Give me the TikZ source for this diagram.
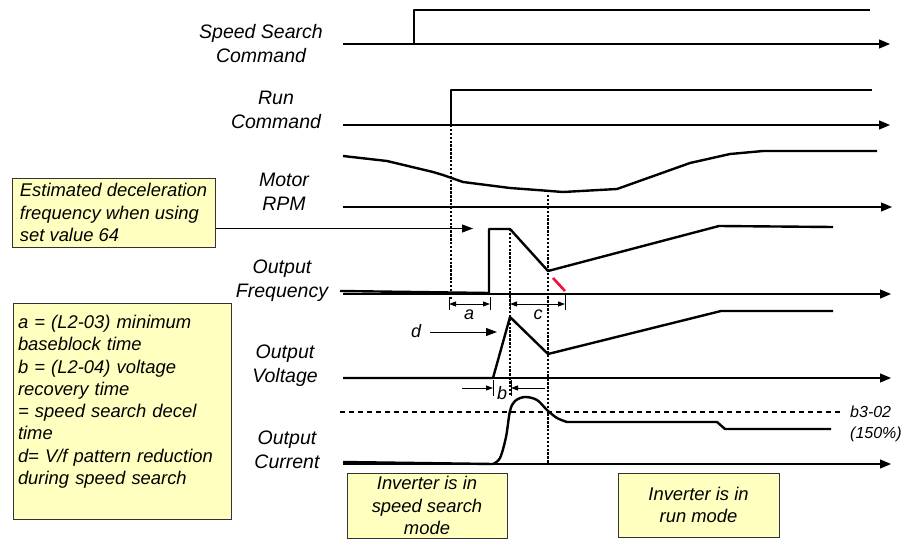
\documentclass[tikz,border=0pt]{standalone}
\usepackage{fontspec}
\setmainfont{Liberation Sans}
\usetikzlibrary{arrows.meta}
\definecolor{notefill}{HTML}{FFFFC0}
\definecolor{alertred}{HTML}{F0103C}
\begin{document}
\begin{tikzpicture}[x=1pt,y=-1pt,
  sig/.style={line width=2.4pt,line join=round},
  axis/.style={line width=1.2pt,-{Triangle[length=11pt,width=9pt]}},
  vdot/.style={line width=1.5pt,dash pattern=on 2.4pt off 1.5pt},
  dim/.style={line width=1pt},
  dimtip/.style={line width=1pt,-{Triangle[length=7pt,width=5pt]}},
  bigtip/.style={line width=1pt,-{Triangle[length=11pt,width=8pt]}},
  lbl/.style={font=\fontsize{19.5}{24}\selectfont\itshape,align=center,anchor=base,inner sep=0pt},
  small/.style={font=\fontsize{18}{22}\selectfont\itshape,anchor=base,inner sep=0pt},
  note/.style={draw=black!80,line width=1pt,fill=notefill,font=\fontsize{18.4}{22.3}\selectfont\itshape,inner sep=0pt}
]
\useasboundingbox (0,0) rectangle (909,540);

% ---- signal labels (anchor = baseline of last line)
\node[lbl] (lss)  at (261,63)  {Speed Search\\Command};
\node[lbl] (lrun) at (276,129) {Run\\Command};
\node[lbl] (lrpm) at (284,210) {Motor\\RPM};
\node[lbl] (lfrq) at (282,297) {Output\\Frequency};
\node[lbl] (lvol) at (285,382) {Output\\Voltage};
\node[lbl] (lcur) at (287,468) {Output\\Current};

% ---- axes
\coordinate (a1s) at (343,44);  \coordinate (a1e) at (890,44);
\coordinate (a2s) at (343,125); \coordinate (a2e) at (890,125);
\coordinate (a3s) at (343,207); \coordinate (a3e) at (892,207);
\coordinate (a4s) at (343,294); \coordinate (a4e) at (891,294);
\coordinate (a5s) at (343,378); \coordinate (a5e) at (891,378);
\coordinate (a6s) at (343,464); \coordinate (a6e) at (891,464);
\foreach \i in {1,...,6} {\draw[axis] (a\i s) -- (a\i e);}

% ---- dotted guide lines
\draw[vdot] (451,125) -- (451,300);
\draw[vdot] (510,229) -- (510,395);
\draw[vdot] (548,195) -- (548,464);

% ---- signals
\draw[sig] (343,44) -- (414,44) -- (414,10) -- (870,10);
\draw[sig] (343,125) -- (451,125) -- (451,90) -- (872,90);
\draw[sig] (343,156) -- (387,161) -- (433,172) -- (443,175) -- (463,182) -- (510,188)
  -- (537,190) -- (563,192) -- (617,189) -- (690,163) -- (730,154) -- (763,151) -- (877,151);
\draw[sig] (340,291) -- (489,293) -- (489,229) -- (510,229) -- (548,271) -- (719,226) -- (833,227);
\draw[alertred,line width=2.6pt] (553,278) -- (565,291);
\draw[sig] (343,378) -- (493,378) -- (510,317) -- (548,354) -- (721,311) -- (833,311);
\draw[line width=1.2pt,dash pattern=on 5pt off 4pt] (340,412) -- (841,412);
\draw[sig] (343,462) -- (493,464) plot[smooth,tension=0.55] coordinates {(493,464) (500,458) (506,437) (510,411) (515,401) (525,397) (537,400) (547,410) (557,418) (567,422)}
  -- (717,422) -- (725,429) -- (831,429);

% ---- dimension a
\draw[dim] (449,297) -- (449,310);
\draw[dim] (490,297) -- (490,310);
\coordinate (am) at (469,304);
\draw[dimtip] (am) -- (449,304);
\draw[dimtip] (am) -- (490,304);
\node[small] (la) at (469,319) {a};

% ---- dimension c
\draw[dim] (510,297) -- (510,310);
\draw[dim] (565,295) -- (565,310);
\coordinate (cm) at (537,304);
\draw[dimtip] (cm) -- (510,304);
\draw[dimtip] (cm) -- (565,304);
\node[small] (lc) at (538,319) {c};

% ---- dimension b
\draw[dim] (493,380) -- (493,396);
\draw[dim] (511,380) -- (511,396);
\draw[dimtip] (462,388) -- (493,388);
\draw[dimtip] (545,388) -- (511,388);
\node[small] (lb) at (502,399) {b};

% ---- d arrow
\node[small] (ld) at (416,337) {d};
\coordinate (dtip) at (497,332);
\draw[bigtip] (430,332) -- (dtip);

% ---- b3-02 label
\node[font=\fontsize{16}{21}\selectfont\itshape,align=left,anchor=base west,inner sep=0pt] (lb3) at (850,438) {b3-02\\(150\%)};

% ---- note boxes
\node[note,align=left,minimum width=203pt,minimum height=69pt] (est) at (113.5,212.5)
  {Estimated deceleration\\frequency when using\\set value 64};
\coordinate (esttip) at (473,228.5);
\draw[bigtip] (est.east |- esttip) -- (esttip);

\node[note,text width=208pt,align=left,inner xsep=5pt,minimum width=218pt,minimum height=216pt] (legend) at (122,411)
  {a = (L2-03) minimum\\baseblock time\\b = (L2-04) voltage\\recovery time\\= speed search decel\\time\\d= V/f pattern reduction\\during speed search\\\mbox{}};

\node[note,align=center,minimum width=160pt,minimum height=65pt] (ssmode) at (427,505.5)
  {Inverter is in\\speed search\\mode};
\node[note,align=center,minimum width=161pt,minimum height=64pt] (runmode) at (698.5,505)
  {Inverter is in\\run mode};
\end{tikzpicture}
\end{document}
